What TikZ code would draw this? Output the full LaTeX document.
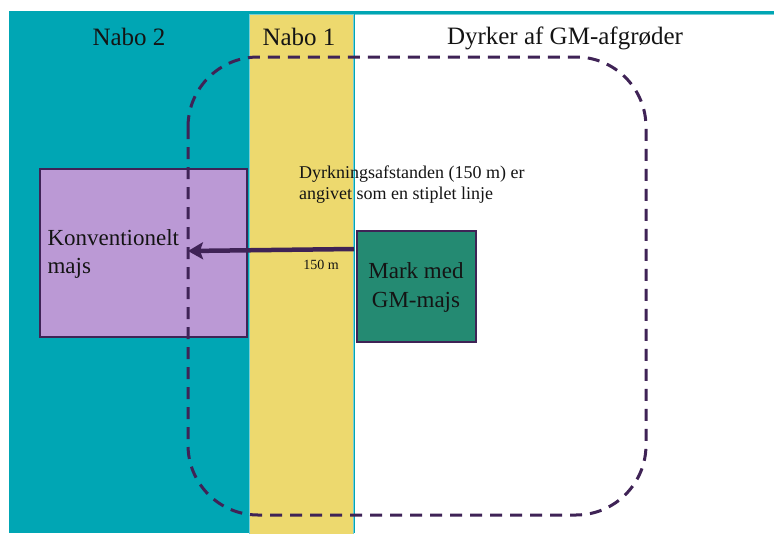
\documentclass[tikz,border=0pt]{standalone}
\usepackage{fontspec}
\setmainfont{Liberation Serif}
\usetikzlibrary{arrows.meta}
\definecolor{teala}{RGB}{0,166,180}
\definecolor{tealb}{RGB}{120,205,212}
\definecolor{yel}{RGB}{237,217,110}
\definecolor{dpurp}{RGB}{63,35,86}
\definecolor{lpurp}{RGB}{187,153,213}
\definecolor{gmgreen}{RGB}{36,138,114}
\definecolor{txt}{RGB}{20,20,20}
\tikzset{
  field/.style={draw=dpurp, line width=2.5pt, inner sep=0pt},
  title/.style={font=\fontsize{25}{30}\selectfont, text=txt},
  boxtext/.style={font=\fontsize{23}{28}\selectfont, text=txt, align=left},
  note/.style={font=\fontsize{18}{21}\selectfont, text=txt, align=left, inner sep=0pt},
}
\begin{document}
\begin{tikzpicture}[x=1pt,y=-1pt]
\useasboundingbox (0,0) rectangle (774,533);
% backgrounds
\fill[teala] (9,11) rectangle (774,533);
\fill[tealb] (355,14) rectangle (774,15);
\fill[white] (355,15) rectangle (774,533);
\filldraw[fill=yel, draw=tealb, line width=0.8pt] (249,14) rectangle (353,540);
% titles
\node[title] (n2) at (129,37) {Nabo 2};
\node[title] (n1) at (299,37) {Nabo 1};
\node[title] (gm) at (565,38) {Dyrker af GM-afgrøder};
% fields
\node[field, fill=lpurp, minimum width=207pt, minimum height=168pt] (conv) at (143.5,253) {};
\node[boxtext, anchor=west] (convt) at (44,254) {Konventionelt\\majs};
\node[field, fill=gmgreen, minimum width=119pt, minimum height=111pt] (gmf) at (416.5,286.5) {};
\node[boxtext, align=center, font=\fontsize{23}{29}\selectfont] (gmt) at (416,287) {Mark med\\GM-majs};
% dashed distance line
\draw[dpurp, line width=3pt, dash pattern=on 12pt off 8pt, rounded corners=70pt] (188,57) rectangle (646,515);
% arrow
\coordinate (astart) at (354,249);
\coordinate (tip) at (188,251);
\draw[dpurp, line width=4.5pt, -{Stealth[length=15pt,width=17pt,inset=3pt]}] (astart) -- (tip);
% notes
\node[note, anchor=west] (desc) at (299,184.5) {Dyrkningsafstanden (150 m) er\\angivet som en stiplet linje};
\node[font=\fontsize{14}{16}\selectfont, text=txt] (dist) at (321,265) {150 m};
\end{tikzpicture}
\end{document}
